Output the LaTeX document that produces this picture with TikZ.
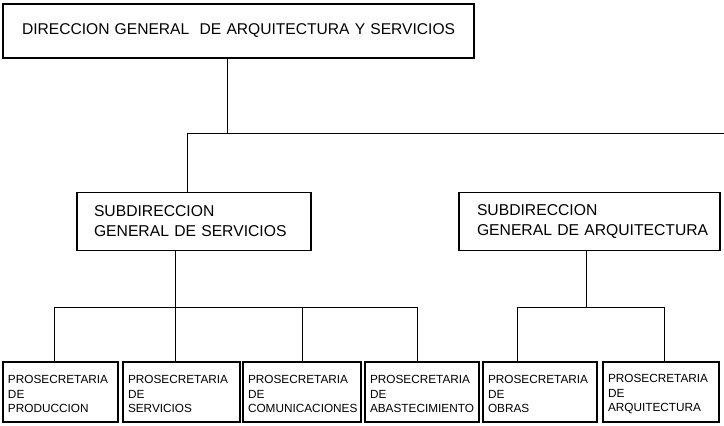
\documentclass[tikz,border=0pt]{standalone}
\usepackage{fontspec}
\setmainfont{Liberation Sans}
\begin{document}
\begin{tikzpicture}[x=1pt,y=-1pt,
  box/.style={draw=black, line width=1.1pt, rectangle, inner ysep=0pt, align=left,
    execute at begin node={\hyphenpenalty=10000 \exhyphenpenalty=10000 }},
  topbox/.style={box, font=\fontsize{15.6}{19}\selectfont, inner xsep=19pt, text width=433pt, minimum width=471pt, minimum height=54pt},
  subbox/.style n args={3}{box, font=\fontsize{15.7}{20}\selectfont, inner xsep=#1, text width=#2, minimum width=#3, minimum height=58pt},
  leafbox/.style 2 args={box, font=\fontsize{11.8}{14.5}\selectfont, inner xsep=5pt, text width=#1, minimum width=#2, minimum height=60pt, text height=13pt},
  link/.style={draw=black, line width=0.9pt}]
\useasboundingbox[fill=white] (0,0) rectangle (724,426);

% boxes
\node[topbox] (top) at (238.5,31) {\mbox{DIRECCION GENERAL\ \ DE ARQUITECTURA Y SERVICIOS}};
\node[subbox={17pt}{200pt}{234pt}] (sub1) at (194,221.5) {\mbox{SUBDIRECCION}\\\mbox{GENERAL DE SERVICIOS}};
\node[subbox={18pt}{225pt}{261pt}] (sub2) at (589.5,221.5) {\mbox{SUBDIRECCION}\\\mbox{GENERAL DE ARQUITECTURA}};

\node[leafbox={105pt}{115pt}] (b1) at (60.5,392) {\mbox{PROSECRETARIA}\\DE\\\mbox{PRODUCCION}};
\node[leafbox={107pt}{117pt}] (b2) at (181.5,392) {\mbox{PROSECRETARIA}\\DE\\\mbox{SERVICIOS}};
\node[leafbox={108pt}{118pt}] (b3) at (302,392) {\mbox{PROSECRETARIA}\\DE\\\mbox{COMUNICACIONES}};
\node[leafbox={104pt}{114pt}] (b4) at (422,392) {\mbox{PROSECRETARIA}\\DE\\\mbox{ABASTECIMIENTO}};
\node[leafbox={104pt}{114pt}] (b5) at (540,392) {\mbox{PROSECRETARIA}\\DE\\\mbox{OBRAS}};
\node[leafbox={106pt}{116pt}] (b6) at (661,392) {\mbox{PROSECRETARIA}\\DE\\\mbox{ARQUITECTURA}};

% junction coordinates
\coordinate (j0) at (227,133);
\coordinate (jL) at (187,133);
\coordinate (jR) at (724,133);
\coordinate (d1) at (54,307);
\coordinate (d2) at (175,307);
\coordinate (d3) at (302,307);
\coordinate (d4) at (417,307);
\coordinate (e0) at (586,307);
\coordinate (d5) at (517,307);
\coordinate (d6) at (664,307);

% connectors
\draw[link] (top.south -| j0) -- (j0);
\draw[link] (jR) -- (jL) -- (jL |- sub1.north);

\draw[link] (sub1.south -| d2) -- (d2);
\draw[link] (d1) -- (d4);
\draw[link] (d1) -- (d1 |- b1.north);
\draw[link] (d2) -- (d2 |- b2.north);
\draw[link] (d3) -- (d3 |- b3.north);
\draw[link] (d4) -- (d4 |- b4.north);

\draw[link] (sub2.south -| e0) -- (e0);
\draw[link] (d5) -- (d6);
\draw[link] (d5) -- (d5 |- b5.north);
\draw[link] (d6) -- (d6 |- b6.north);
\end{tikzpicture}
\end{document}
